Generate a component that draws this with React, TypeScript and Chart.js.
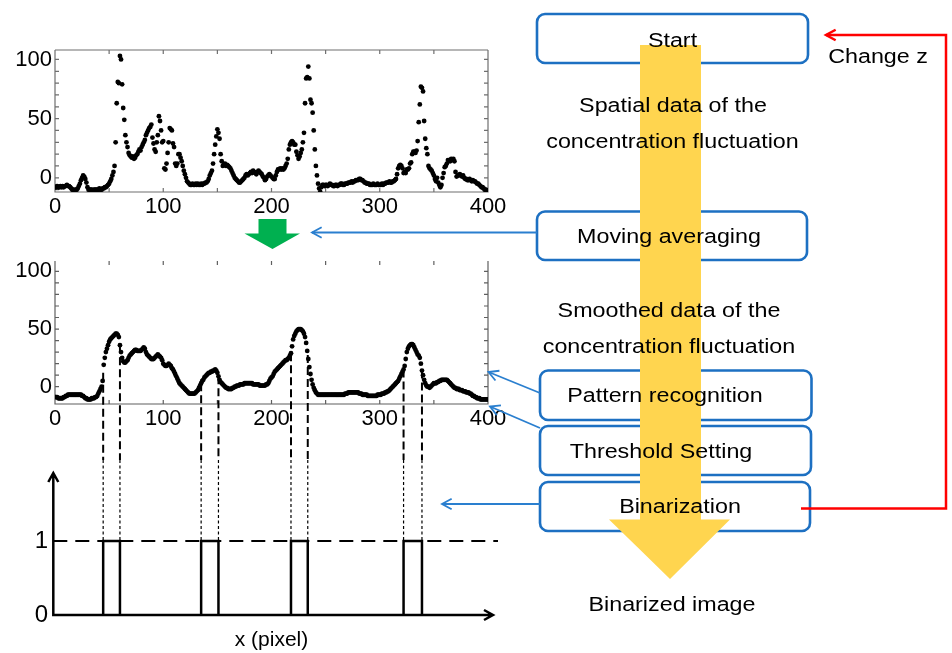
import React, { useEffect, useRef } from 'react';
import { Chart, registerables } from 'chart.js';

Chart.register(...registerables);

// Concentration along the line, one sample per pixel (x = 0..400)
const rawConcentration: number[] = [
  -8, -8, -7, -8, -8, -7, -8, -7, -8, -7,
  -7, -6, -7, -7, -8, -9, -10, -10, -11, -10,
  -10, -9, -7, -5, -2, 0, 2, 1, -1, -4,
  -8, -10, -10, -10, -10, -11, -10, -10, -10, -10,
  -10, -9, -10, -10, -9, -9, -8, -8, -7, -6,
  -5, -3, -1, 2, 5, 10, 30, 63, 81, 80,
  103, 100, 79, 59, 49, 36, 30, 26, 21, 19,
  18, 17, 18, 16, 17, 19, 20, 22, 24, 23,
  26, 28, 30, 32, 36, 38, 40, 42, 43, 45,
  34, 29, 24, 22, 30, 36, 52, 48, 40, 30,
  31, 8, 7, 12, 21, 30, 42, 41, 40, 29,
  26, 12, 10, 12, 20, 20, 17, 14, 10, 6,
  3, 0, -3, -4, -5, -6, -6, -5, -6, -6,
  -5, -6, -5, -6, -6, -5, -6, -5, -5, -4,
  -4, -3, -1, 2, 4, 6, 12, 20, 28, 35,
  41, 38, 33, 20, 14, 10, 11, 12, 10, 11,
  10, 9, 8, 6, 4, 2, 0, -1, -2, -3,
  -4, -4, -3, -2, -1, 0, 2, 3, 2, 3,
  4, 5, 4, 6, 5, 4, 3, 5, 6, 5,
  4, 3, 1, 0, -2, -1, 1, 2, 3, 2,
  1, 0, -1, -1, 2, 5, 7, 7, 8, 7,
  8, 7, 8, 10, 12, 16, 24, 28, 30, 31,
  30, 28, 28, 22, 19, 16, 18, 21, 24, 30,
  38, 63, 84, 85, 94, 84, 66, 63, 55, 40,
  24, 10, 2, -5, -9, -12, -8, -6, -6, -7,
  -6, -6, -7, -6, -5, -6, -6, -7, -7, -6,
  -6, -7, -6, -6, -5, -5, -6, -6, -5, -5,
  -5, -4, -4, -4, -3, -4, -3, -3, -2, -2,
  -2, -1, -1, -2, -2, -3, -4, -4, -5, -5,
  -5, -6, -6, -6, -5, -6, -6, -6, -5, -6,
  -6, -6, -5, -6, -5, -5, -4, -4, -4, -3,
  -4, -4, -3, -3, -2, -1, 3, 8, 10, 11,
  10, 8, 4, 5, 4, 7, 7, 8, 12, 13,
  20, 22, 22, 21, 23, 31, 47, 62, 77, 76,
  73, 48, 33, 25, 20, 10, 8, 7, 6, 4,
  2, -1, -3, 0, -4, -6, -8, -6, 0, 4,
  9, 10, 12, 15, 15, 14, 16, 15, 16, 14,
  5, 1, 2, 2, 3, 2, 1, 2, 0, -1,
  -1, -2, -2, -1, -2, -3, -2, -3, -3, -4,
  -5, -5, -6, -7, -8, -8, -9, -10, -10, -11,
  -11,
];

// Same profile after moving averaging
const smoothedConcentration: number[] = [
  -9, -9, -9, -10, -10, -10, -10, -10, -9, -9,
  -8, -8, -7, -7, -7, -7, -7, -7, -7, -7,
  -7, -7, -7, -7, -7, -8, -8, -9, -10, -10,
  -11, -11, -11, -11, -10, -10, -10, -9, -9, -8,
  -6, -4, -2, 0, 5, 19, 25, 30, 33, 36,
  39, 41, 42, 43, 44, 45, 46, 46, 45, 43,
  36, 30, 25, 22, 21, 21, 22, 23, 25, 27,
  28, 29, 30, 31, 32, 32, 31, 31, 31, 31,
  32, 33, 34, 33, 30, 28, 27, 26, 25, 24,
  24, 24, 25, 26, 27, 28, 27, 26, 25, 23,
  20, 19, 18, 18, 19, 20, 19, 18, 16, 15,
  13, 11, 9, 7, 5, 3, 2, 1, 0, -1,
  -2, -3, -4, -5, -6, -6, -6, -6, -6, -6,
  -5, -4, -3, -1, 1, 3, 5, 6, 8, 9,
  10, 11, 12, 12, 13, 13, 14, 14, 15, 14,
  12, 9, 6, 4, 3, 2, 1, 0, -1, -1,
  -2, -2, -2, -2, -1, -1, 0, 0, 1, 1,
  1, 2, 2, 2, 2, 3, 3, 3, 3, 3,
  3, 3, 3, 2, 2, 2, 2, 2, 2, 1,
  1, 1, 1, 1, 1, 2, 2, 3, 5, 7,
  8, 9, 11, 13, 14, 15, 16, 17, 18, 19,
  20, 21, 22, 23, 23, 24, 25, 27, 29, 35,
  41, 44, 46, 48, 49, 50, 50, 50, 49, 48,
  46, 43, 38, 31, 24, 17, 11, 6, 2, -1,
  -3, -5, -6, -7, -7, -7, -7, -7, -7, -7,
  -7, -7, -7, -7, -7, -7, -7, -7, -7, -7,
  -7, -7, -7, -7, -7, -7, -7, -7, -6, -6,
  -6, -5, -5, -5, -5, -5, -5, -5, -5, -5,
  -5, -6, -6, -6, -7, -7, -7, -7, -7, -8,
  -8, -8, -8, -8, -8, -8, -8, -8, -7, -7,
  -7, -7, -6, -6, -6, -5, -5, -4, -4, -3,
  -2, -1, 0, 1, 2, 3, 4, 5, 7, 9,
  11, 13, 15, 18, 24, 30, 33, 35, 36, 37,
  37, 36, 34, 32, 30, 28, 27, 25, 20, 14,
  10, 6, 3, 1, 0, 0, -1, 0, 1, 2,
  3, 3, 3, 4, 4, 5, 5, 6, 6, 6,
  6, 6, 6, 5, 4, 3, 2, 1, 0, -1,
  -1, -2, -2, -2, -3, -3, -3, -4, -4, -4,
  -5, -5, -5, -6, -6, -7, -8, -8, -9, -9,
  -10, -10, -10, -11, -11, -11, -11, -11, -11, -11,
  -11,
];

// Recognised plume segments (x in pixels): binarized to 1 between start and end
const segmentStarts = [44.5, 135, 218, 322];
const segmentEnds = [60, 151, 233.5, 339];
const binaryLevel = 1;

const xTickLabels = [0, 100, 200, 300, 400];
const yTickLabels = [0, 50, 100];
const binaryTickLabels = [0, 1];

const FONT = '"Liberation Sans", Arial, Helvetica, sans-serif';
const BOX_BLUE = '#1d70c2';
const ARROW_BLUE = '#2a7fcf';

const fitAxis = (size: number) => (scale: any) => {
  if (scale.isHorizontal()) scale.height = size;
  else scale.width = size;
  scale.paddingLeft = 0;
  scale.paddingRight = 0;
  scale.paddingTop = 0;
  scale.paddingBottom = 0;
};

const setTicks = (values: number[]) => (scale: any) => {
  scale.ticks = values.map((value) => ({ value }));
};

const valueAt = (series: number[], x: number) => {
  const i = Math.floor(x);
  const j = Math.min(i + 1, series.length - 1);
  return series[i] + (series[j] - series[i]) * (x - i);
};

// MATLAB-like frame with inward tick marks
const frameTicks = {
  id: 'frameTicks',
  beforeDatasetsDraw(chart: any, _args: any, opts: any) {
    const { ctx } = chart;
    const { left, right, top, bottom } = chart.chartArea;
    const xs = chart.scales.x;
    const ys = chart.scales.y;
    ctx.save();
    ctx.strokeStyle = opts.color;
    ctx.lineWidth = opts.lineWidth;
    ctx.beginPath();
    if (opts.topBorder) {
      ctx.moveTo(left, top);
      ctx.lineTo(right, top);
    }
    ctx.moveTo(left, top);
    ctx.lineTo(left, bottom);
    ctx.lineTo(right, bottom);
    ctx.lineTo(right, top);
    ctx.stroke();
    const len = opts.tickLength;
    ctx.beginPath();
    for (let v = xs.min + opts.xStep; v < xs.max; v += opts.xStep) {
      const p = xs.getPixelForValue(v);
      ctx.moveTo(p, bottom);
      ctx.lineTo(p, bottom - len);
      ctx.moveTo(p, top);
      ctx.lineTo(p, top + len);
    }
    for (let v = Math.ceil(ys.min / opts.yStep) * opts.yStep; v < ys.max; v += opts.yStep) {
      const p = ys.getPixelForValue(v);
      ctx.moveTo(left, p);
      ctx.lineTo(left + len, p);
      ctx.moveTo(right, p);
      ctx.lineTo(right - len, p);
    }
    ctx.stroke();
    ctx.restore();
  },
};

// Dashed guides at the segment edges
const edgeGuides = {
  id: 'edgeGuides',
  afterDatasetsDraw(chart: any, _args: any, opts: any) {
    const { ctx } = chart;
    const xs = chart.scales.x;
    const ys = chart.scales.y;
    ctx.save();
    ctx.strokeStyle = '#000';
    ctx.lineWidth = opts.lineWidth;
    ctx.setLineDash(opts.dash);
    ctx.beginPath();
    const edges = [...segmentStarts, ...segmentEnds];
    for (const e of edges) {
      const px = xs.getPixelForValue(e);
      let y1: number;
      let y2: number;
      if (opts.fromCurve) {
        y1 = ys.getPixelForValue(valueAt(smoothedConcentration, e));
        y2 = chart.height;
      } else {
        y1 = 0;
        y2 = ys.getPixelForValue(binaryLevel);
      }
      ctx.moveTo(px, y1);
      ctx.lineTo(px, y2);
    }
    ctx.stroke();
    ctx.restore();
  },
};

// Arrow-headed axes and threshold level for the binary plot
const arrowAxes = {
  id: 'arrowAxes',
  afterDatasetsDraw(chart: any) {
    const { ctx } = chart;
    const { left, right, top } = chart.chartArea;
    const ys = chart.scales.y;
    const ox = left - 1.7;
    const oy = ys.getPixelForValue(0);
    const ly = ys.getPixelForValue(binaryLevel);
    const tipX = right + 5;
    ctx.save();
    ctx.strokeStyle = '#000';
    ctx.lineWidth = 2;
    ctx.setLineDash([14, 8]);
    ctx.beginPath();
    ctx.moveTo(ox, ly);
    ctx.lineTo(right + 10, ly);
    ctx.stroke();
    ctx.setLineDash([]);
    ctx.lineWidth = 2.5;
    ctx.beginPath();
    ctx.moveTo(ox, top);
    ctx.lineTo(ox, oy);
    ctx.lineTo(tipX, oy);
    ctx.moveTo(ox - 5, top + 9);
    ctx.lineTo(ox, top);
    ctx.lineTo(ox + 5, top + 9);
    ctx.moveTo(tipX - 9, oy - 5);
    ctx.lineTo(tipX, oy);
    ctx.lineTo(tipX - 9, oy + 5);
    ctx.stroke();
    ctx.restore();
  },
};

const tickFont = { family: FONT, size: 22 };

const baseOptions = {
  animation: false,
  responsive: false,
  devicePixelRatio: 1,
  events: [],
};

const dotDataset = (values: number[]) => ({
  data: values.map((y, x) => ({ x, y })),
  pointRadius: 2.4,
  pointHoverRadius: 2.4,
  pointBackgroundColor: '#000',
  pointBorderWidth: 0,
  showLine: false,
});

const profileScales = (yMin: number, yMax: number, xAxisHeight: number) => ({
  x: {
    type: 'linear',
    min: 0,
    max: 400,
    afterBuildTicks: setTicks(xTickLabels),
    afterFit: fitAxis(xAxisHeight),
    grid: { display: false, drawTicks: false },
    border: { display: false },
    ticks: { font: tickFont, color: '#000', padding: 2, maxRotation: 0, autoSkip: false },
  },
  y: {
    type: 'linear',
    min: yMin,
    max: yMax,
    afterBuildTicks: setTicks(yTickLabels),
    afterFit: fitAxis(55),
    grid: { display: false, drawTicks: false },
    border: { display: false },
    ticks: { font: tickFont, color: '#000', padding: 3 },
  },
});

const rawConfig = (): any => ({
  type: 'scatter',
  data: { datasets: [dotDataset(rawConcentration)] },
  options: {
    ...baseOptions,
    layout: { padding: { left: 0, right: 32, top: 10, bottom: 0 } },
    plugins: {
      legend: { display: false },
      tooltip: { enabled: false },
      frameTicks: { color: '#6f6f6f', lineWidth: 1.2, topBorder: true, xStep: 50, yStep: 10, tickLength: 4 },
    },
    scales: profileScales(-12, 108, 28),
  },
  plugins: [frameTicks],
});

const smoothConfig = (): any => ({
  type: 'scatter',
  data: { datasets: [dotDataset(smoothedConcentration)] },
  options: {
    ...baseOptions,
    layout: { padding: { left: 0, right: 32, top: 11, bottom: 0 } },
    plugins: {
      legend: { display: false },
      tooltip: { enabled: false },
      frameTicks: { color: '#5f5f5f', lineWidth: 1.2, topBorder: false, xStep: 50, yStep: 10, tickLength: 4 },
      edgeGuides: { fromCurve: true, dash: [8, 4], lineWidth: 2 },
    },
    scales: profileScales(-15, 109, 56),
  },
  plugins: [frameTicks, edgeGuides],
});

const binaryConfig = (): any => ({
  type: 'scatter',
  data: {
    datasets: segmentStarts.map((s, i) => ({
      data: [
        { x: s, y: 0 },
        { x: s, y: binaryLevel },
        { x: segmentEnds[i], y: binaryLevel },
        { x: segmentEnds[i], y: 0 },
      ],
      showLine: true,
      borderColor: '#000',
      borderWidth: 2.5,
      pointRadius: 0,
      pointHoverRadius: 0,
      clip: 4,
    })),
  },
  options: {
    ...baseOptions,
    layout: { padding: { left: 0, right: 32, top: 13, bottom: 0 } },
    plugins: {
      legend: { display: false },
      tooltip: { enabled: false },
      edgeGuides: { fromCurve: false, dash: [3, 2.5], lineWidth: 1.2 },
    },
    scales: {
      x: {
        type: 'linear',
        min: 0,
        max: 400,
        afterFit: fitAxis(38),
        grid: { display: false, drawTicks: false },
        border: { display: false },
        ticks: { display: false },
        title: { display: true, text: 'x (pixel)', font: { family: FONT, size: 21 }, color: '#000', padding: 0 },
      },
      y: {
        type: 'linear',
        min: 0,
        max: 1.92,
        afterBuildTicks: setTicks(binaryTickLabels),
        afterFit: fitAxis(55),
        grid: { display: false, drawTicks: false },
        border: { display: false },
        ticks: { font: { family: FONT, size: 24 }, color: '#000', padding: 7 },
      },
    },
  },
  plugins: [edgeGuides, arrowAxes],
});

type Pt = [number, number];

const arrowHead = (tip: Pt, tail: Pt, len = 11, spread = 0.5) => {
  const a = Math.atan2(tail[1] - tip[1], tail[0] - tip[0]);
  const p1: Pt = [tip[0] + len * Math.cos(a + spread), tip[1] + len * Math.sin(a + spread)];
  const p2: Pt = [tip[0] + len * Math.cos(a - spread), tip[1] + len * Math.sin(a - spread)];
  return `${p1[0]},${p1[1]} ${tip[0]},${tip[1]} ${p2[0]},${p2[1]}`;
};

const Label = ({ x, y, text }: { x: number; y: number; text: string }) => (
  <text
    transform={`translate(${x} ${y}) scale(1.11 1)`}
    textAnchor="middle"
    fontSize={21}
    fill="#000"
  >
    {text}
  </text>
);

const steps = [
  { x: 537, y: 14, w: 271, h: 49 },
  { x: 537, y: 211.5, w: 270, h: 48.5 },
  { x: 540, y: 370.5, w: 271.5, h: 49.5 },
  { x: 540, y: 426, w: 271, h: 49 },
  { x: 540, y: 482, w: 270, h: 49 },
];

const pointers: [Pt, Pt][] = [
  [[537, 232.5], [312, 232.5]],
  [[540, 393], [488.5, 372]],
  [[540, 428], [490, 406.5]],
  [[540, 504], [442, 504]],
];

const FlowDiagram = () => (
  <svg
    width={952}
    height={653}
    style={{ position: 'absolute', left: 0, top: 0, pointerEvents: 'none' }}
    fontFamily={FONT}
  >
    {steps.map((b, i) => (
      <rect key={i} x={b.x} y={b.y} width={b.w} height={b.h} rx={8} ry={8} fill="#fff" stroke={BOX_BLUE} strokeWidth={2.6} />
    ))}
    <polygon points="640,45 701,45 701,519.5 730,519.5 670,579 609,519.5 640,519.5" fill="#FFD54F" />
    <polyline points="801,508.5 946,508.5 946,35 826,35" fill="none" stroke="#ff0000" strokeWidth={2.5} />
    <polyline points={arrowHead([826, 35], [946, 35], 11, 0.5)} fill="none" stroke="#ff0000" strokeWidth={2.5} />
    {pointers.map(([from, to], i) => (
      <g key={i} fill="none" stroke={ARROW_BLUE} strokeWidth={1.8}>
        <line x1={from[0]} y1={from[1]} x2={to[0]} y2={to[1]} />
        <polyline points={arrowHead(to, from, 11, 0.5)} />
      </g>
    ))}
    <polygon points="258.5,219 286.5,219 286.5,233.5 300,233.5 272.5,249 244.5,233.5 258.5,233.5" fill="#00b050" />
    <Label x={672.5} y={46.5} text="Start" />
    <Label x={878} y={63} text="Change z" />
    <Label x={673} y={111.5} text="Spatial data of the" />
    <Label x={672.5} y={148} text="concentration fluctuation" />
    <Label x={669} y={243} text="Moving averaging" />
    <Label x={669} y={316.5} text="Smoothed data of the" />
    <Label x={669} y={353} text="concentration fluctuation" />
    <Label x={665} y={401.5} text="Pattern recognition" />
    <Label x={661} y={458} text="Threshold Setting" />
    <Label x={680} y={512.5} text="Binarization" />
    <Label x={672} y={611} text="Binarized image" />
  </svg>
);

const canvasStyle = (top: number, height: number): React.CSSProperties => ({
  position: 'absolute',
  left: 0,
  top,
  width: 520,
  height,
});

export default function App() {
  const rawRef = useRef<HTMLCanvasElement>(null);
  const smoothRef = useRef<HTMLCanvasElement>(null);
  const binaryRef = useRef<HTMLCanvasElement>(null);

  useEffect(() => {
    const charts = [
      new Chart(rawRef.current as HTMLCanvasElement, rawConfig()),
      new Chart(smoothRef.current as HTMLCanvasElement, smoothConfig()),
      new Chart(binaryRef.current as HTMLCanvasElement, binaryConfig()),
    ];
    return () => charts.forEach((c) => c.destroy());
  }, []);

  return (
    <div
      style={{
        position: 'fixed',
        left: 0,
        top: 0,
        width: 952,
        height: 653,
        background: '#fff',
        overflow: 'hidden',
        fontFamily: FONT,
      }}
    >
      <canvas ref={rawRef} width={520} height={180} style={canvasStyle(40, 180)} />
      <canvas ref={smoothRef} width={520} height={210} style={canvasStyle(250, 210)} />
      <canvas ref={binaryRef} width={520} height={193} style={canvasStyle(460, 193)} />
      <FlowDiagram />
    </div>
  );
}
